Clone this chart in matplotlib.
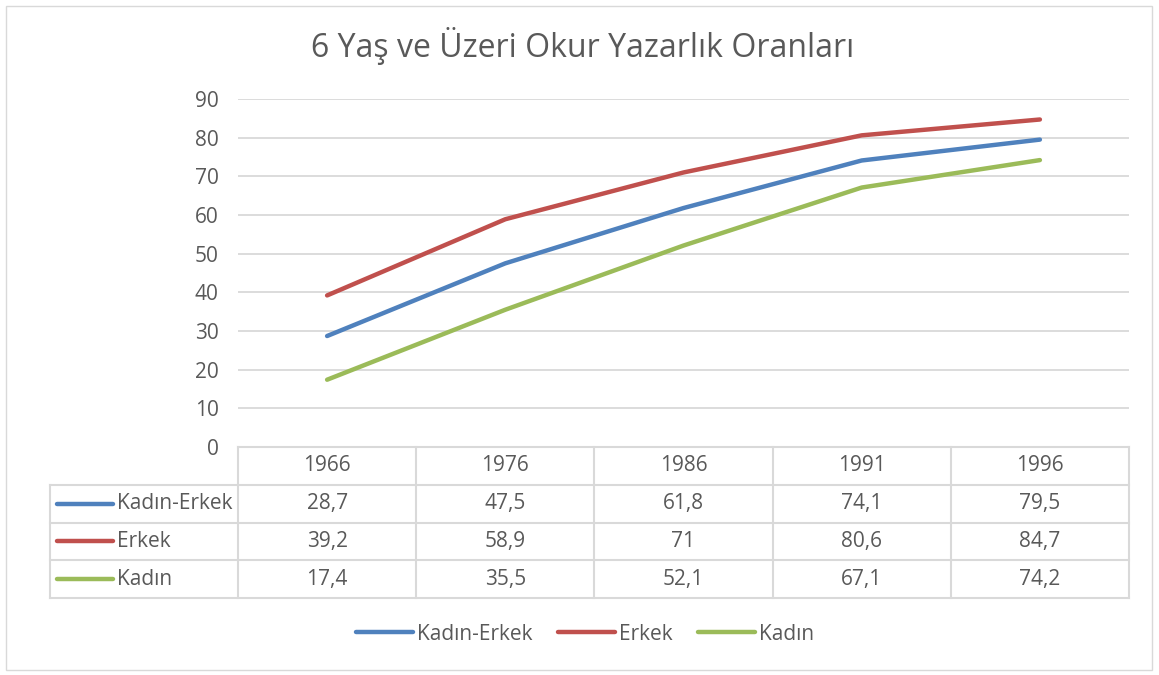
import matplotlib
matplotlib.use("Agg")
import numpy as np
from matplotlib import pyplot as plt
from matplotlib.lines import Line2D
from matplotlib.patches import Rectangle

years = ["1966", "1976", "1986", "1991", "1996"]
series_names = ["Kadın-Erkek", "Erkek", "Kadın"]
kadin_erkek = [28.7, 47.5, 61.8, 74.1, 79.5]
erkek = [39.2, 58.9, 71.0, 80.6, 84.7]
kadin = [17.4, 35.5, 52.1, 67.1, 74.2]
yticks = [0, 10, 20, 30, 40, 50, 60, 70, 80, 90]
title = "6 Yaş ve Üzeri Okur Yazarlık Oranları"

colors = ["#4F81BD", "#C0504D", "#9BBB59"]
grid_c = "#D9D9D9"
text_c = "#595959"
fs = 15
plt.rcParams["font.family"] = ["Open Sans", "DejaVu Sans"]

W, H = 1159, 675
fig = plt.figure(figsize=(W / 100, H / 100), dpi=100)
fig.patches.append(Rectangle((6 / W, 5 / H), 1146 / W, 664 / H, transform=fig.transFigure,
                             fill=False, edgecolor=grid_c, lw=1))

def fx(px):
    return px / W

def fy(py):
    return 1 - py / H

# main plot area
ax = fig.add_axes([fx(238), fy(447), fx(1129) - fx(238), fy(99) - fy(447)])
x = np.arange(len(years))
for vals, c in zip([kadin_erkek, erkek, kadin], colors):
    ax.plot(x, vals, color=c, lw=3.2, solid_capstyle="round", solid_joinstyle="round")
ax.set_xlim(-0.5, len(years) - 0.5)
ax.set_ylim(0, 90)
ax.set_yticks(yticks)
ax.set_yticklabels([str(t) for t in yticks], fontsize=fs, color=text_c)
ax.tick_params(axis="y", length=0, pad=14)
ax.set_xticks([])
ax.grid(axis="y", color=grid_c, lw=1.3)
ax.set_axisbelow(True)
for s in ax.spines.values():
    s.set_visible(False)

fig.text(fx(583), fy(46), title, ha="center", va="center", fontsize=23, color=text_c)

# data table
tax = fig.add_axes([fx(50), fy(598), fx(1129) - fx(50), fy(447) - fy(598)])
colw = (1129 - 238) / len(years)
lab_w = (238 - 50) / colw
tax.set_xlim(-0.5 - lab_w, len(years) - 0.5)
tax.set_ylim(4, 0)
tax.axis("off")
lk = dict(color=grid_c, lw=1.5, clip_on=False)
tax.plot([-0.5, len(years) - 0.5], [0, 0], **lk)
for r in range(1, 5):
    tax.plot([-0.5 - lab_w, len(years) - 0.5], [r, r], **lk)
tax.plot([-0.5 - lab_w, -0.5 - lab_w], [1, 4], **lk)
for i in range(len(years) + 1):
    tax.plot([i - 0.5, i - 0.5], [0, 4], **lk)
for i, yr in enumerate(years):
    tax.text(i, 0.5, yr, ha="center", va="center", fontsize=fs, color=text_c)
for r, (name, vals, c) in enumerate(zip(series_names, [kadin_erkek, erkek, kadin], colors)):
    yy = r + 1.5
    x0 = -0.5 - lab_w + 7 / colw
    x1 = x0 + 56 / colw
    tax.plot([x0, x1], [yy, yy], color=c, lw=3.2, solid_capstyle="round")
    tax.text(x1 + 4 / colw, yy, name, ha="left", va="center", fontsize=fs, color=text_c)
    for i, v in enumerate(vals):
        s = f"{v:g}".replace(".", ",")
        tax.text(i, yy, s, ha="center", va="center", fontsize=fs, color=text_c)

# legend
handles = [Line2D([], [], color=c, lw=3.2, solid_capstyle="round") for c in colors]
fig.legend(handles, series_names, loc="center", bbox_to_anchor=(fx(585), fy(634)), ncol=3,
           frameon=False, fontsize=fs, handlelength=2.75, handletextpad=0.2,
           columnspacing=1.2, labelcolor=text_c)

fig.savefig("out.png", dpi=100)
